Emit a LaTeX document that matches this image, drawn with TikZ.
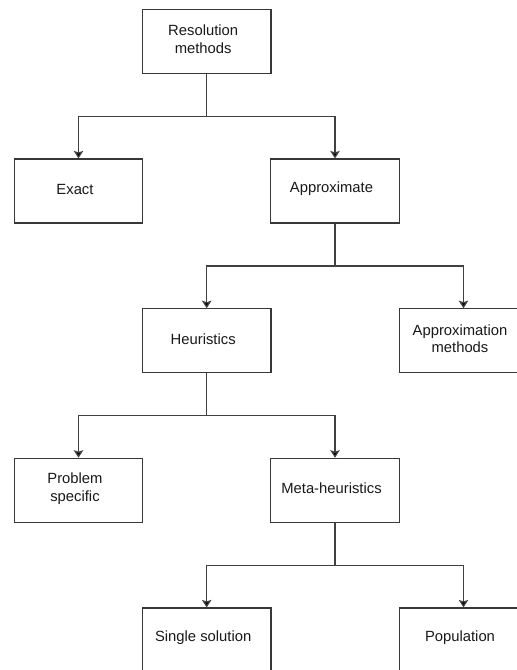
\documentclass[tikz,border=0pt]{standalone}
\usepackage{fontspec}
\setmainfont{Liberation Sans}
\usetikzlibrary{arrows.meta}
\begin{document}
\begin{tikzpicture}[x=1pt,y=-1pt,
  box/.style={draw=black!78, line width=1.2pt, minimum width=128.5pt, minimum height=64pt, inner sep=0pt, fill=white},
  txt/.style={font=\fontsize{14.8}{17.8}\selectfont, align=center, text=black!90, xshift=-3.5pt, yshift=2pt},
  conn/.style={draw=black!75, line width=1.2pt, -{Stealth[width=9.5pt,length=7.5pt,inset=1.5pt,fill=black]}}
]
\clip (0,0) rectangle (517,670);
\fill[white] (0,0) rectangle (517,670);
\node[box] (root) at (206.7,41.3) {};
\node[txt] (troot) at (root.center) {Resolution\\methods};
\node[box] (exact) at (78.5,191) {};
\node[txt] (texact) at (exact.center) {Exact};
\node[box] (approx) at (335,191) {};
\node[txt] (tapprox) at (approx.center) {Approximate};
\node[box] (heur) at (206.7,340.8) {};
\node[txt] (theur) at (heur.center) {Heuristics};
\node[box] (amethods) at (463.5,340.8) {};
\node[txt] (tamethods) at (amethods.center) {Approximation\\methods};
\node[box] (prob) at (78.5,490.3) {};
\node[txt] (tprob) at (prob.center) {Problem\\specific};
\node[box] (meta) at (335,490.3) {};
\node[txt] (tmeta) at (meta.center) {Meta-heuristics};
\node[box] (single) at (206.7,640) {};
\node[txt] (tsingle) at (single.center) {Single solution};
\node[box] (pop) at (463.5,640) {};
\node[txt] (tpop) at (pop.center) {Population};

\draw[conn] (root.south) -- ++(0,42.7) -| (exact.north);
\draw[conn] (root.south) -- ++(0,42.7) -| (approx.north);
\draw[conn] (approx.south) -- ++(0,42.3) -| (heur.north);
\draw[conn] (approx.south) -- ++(0,42.3) -| (amethods.north);
\draw[conn] (heur.south) -- ++(0,41.7) -| (prob.north);
\draw[conn] (heur.south) -- ++(0,41.7) -| (meta.north);
\draw[conn] (meta.south) -- ++(0,42.7) -| (single.north);
\draw[conn] (meta.south) -- ++(0,42.7) -| (pop.north);
\end{tikzpicture}
\end{document}
